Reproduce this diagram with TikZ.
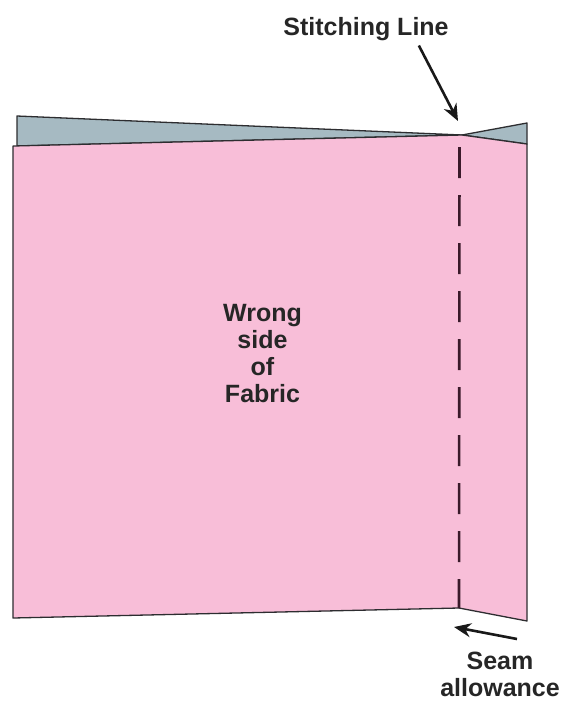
\documentclass[tikz,border=0pt]{standalone}
\usepackage{fontspec}
\newfontfamily\lblfont{Liberation Sans}
\usetikzlibrary{arrows.meta, positioning}

\definecolor{fabricpink}{RGB}{248,190,216}
\definecolor{flapgrey}{RGB}{166,186,194}
\definecolor{edgegrey}{RGB}{45,45,48}
\definecolor{stitchcol}{RGB}{58,26,42}

\begin{document}
\begin{tikzpicture}[
  x=1pt, y=-1pt,
  >=Stealth,
  % --- fabric pieces ---
  panel/.style={fill=fabricpink},
  edge/.style={draw=edgegrey, line width=1.3pt, line join=round},
  flap/.style={fill=flapgrey, edge},
  stitching/.style={draw=stitchcol, line width=2.6pt, dash pattern=on 31pt off 17pt},
  % --- labels ---
  lbl/.style={font=\lblfont\bfseries\fontsize{25}{27}\selectfont, text=black!85, align=center, inner sep=0pt},
  % --- arrows ---
  arr/.style={-{Stealth[length=17pt, width=14pt]}, line width=2.6pt, draw=black!90},
]
\useasboundingbox (0,0) rectangle (562,702);

% ===================== FABRIC =====================

% back layer, showing at the top
\draw[flap] (17,116) -- (462,135) -- (17,146) -- cycle;
\draw[flap] (462,135) -- (527,123) -- (527,144) -- cycle;

% front layer, folded back at the seam
\fill[panel] (13,146) -- (462,135) -- (527,144) -- (527,621) -- (459,608) -- (13,618) -- cycle;
\draw[edge] (462,135) -- (13,146) -- (13,618) -- (459,608);
\draw[edge] (462,135) -- (527,144) -- (527,621) -- (459,608);

% seam line
\coordinate (seamtop) at (459.5,147);
\coordinate (seambot) at (459,608);
\draw[stitching] (seamtop) -- (seambot);

% ===================== LABELS =====================

\node[lbl, anchor=base] (stitchlbl) at (366,35) {Stitching Line};
\node[lbl] (fabriclbl) at (262.5,353.5) {Wrong\\side\\of\\Fabric};
\node[lbl] (seamlbl) at (500,674) {Seam\\allowance};

% ===================== ARROWS =====================

\coordinate (stitchtip) at (458,121);
\coordinate (seamtail) at (517,639);
\coordinate (seamtip) at (454,627);

\draw[arr] ([xshift=-30pt, yshift=-5pt]stitchlbl.south east) -- (stitchtip);
\draw[arr] (seamtail) -- (seamtip);

\end{tikzpicture}
\end{document}
